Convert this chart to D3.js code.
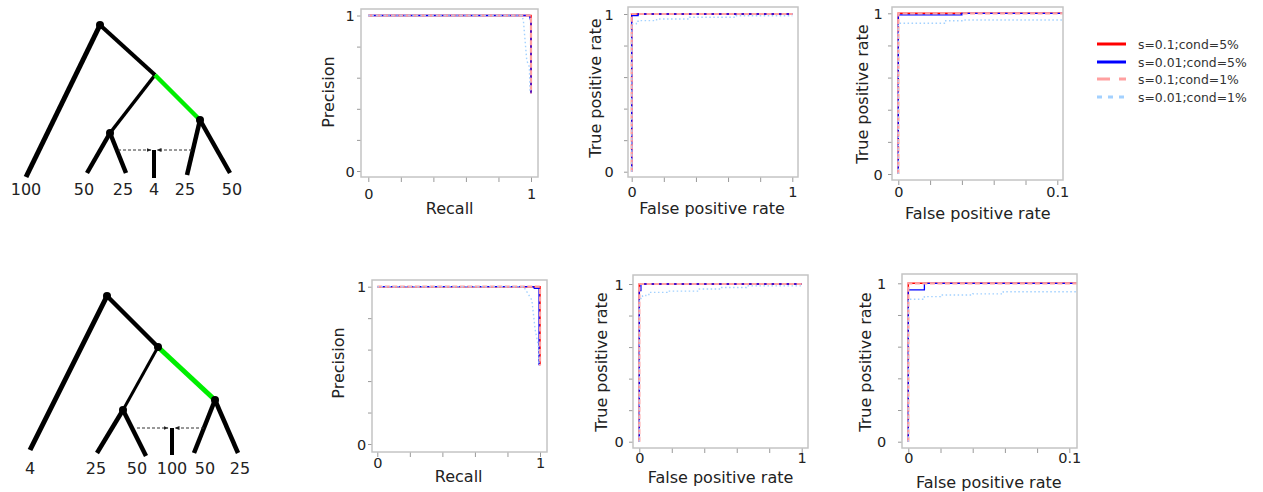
<!DOCTYPE html>
<html>
<head>
<meta charset="utf-8">
<script src="https://cdn.jsdelivr.net/npm/d3@7"></script>
<style>
  body { margin: 0; background: #fff; }
  svg { display: block; }
  text { font-family: "DejaVu Sans", sans-serif; }
</style>
</head>
<body>
<svg id="fig" width="1263" height="492"></svg>
<script>
// ---------- data ----------
const seriesNames = ["s=0.1;cond=5%", "s=0.01;cond=5%", "s=0.1;cond=1%", "s=0.01;cond=1%"];

// leaf labels of the two network schematics, left to right
const treeTopLeaves = ["100", "50", "25", "4", "25", "50"];
const treeBottomLeaves = ["4", "25", "50", "100", "50", "25"];

// precision-recall curves, scenario 1 (one array per series: [recall, precision])
const prTop = [
  [[0, 1], [1, 1], [1, 0.5]],
  [[0, 1], [0.99, 1], [1, 0.96], [1, 0.5]],
  [[0, 1], [1, 1], [1, 0.5]],
  [[0, 1], [0.943, 1], [0.953, 0.97], [0.974, 0.71], [0.99, 0.67], [0.994, 0.5]]
];
// ROC curves, scenario 1 ([false positive rate, true positive rate])
const rocTop = [
  [[0, 0], [0, 1], [1, 1]],
  [[0, 0], [0, 0.99], [0.04, 0.99], [0.04, 1], [1, 1]],
  [[0, 0], [0, 1], [1, 1]],
  [[0, 0], [0, 0.938], [0.029, 0.938], [0.029, 0.954], [0.04, 0.954], [0.04, 0.958],
   [0.155, 0.958], [0.155, 0.968], [0.36, 0.968], [0.36, 0.979], [0.65, 0.979],
   [0.65, 0.989], [1, 0.989]]
];
// precision-recall curves, scenario 2
const prBottom = [
  [[0, 1], [1, 1], [1, 0.5]],
  [[0, 1], [0.96, 1], [0.965, 0.99], [0.994, 0.99], [0.994, 0.5]],
  [[0, 1], [1, 1], [1, 0.5]],
  [[0, 1], [0.9, 1], [0.95, 0.915], [0.97, 0.73], [0.99, 0.62], [0.994, 0.5]]
];
// ROC curves, scenario 2
const rocBottom = [
  [[0, 0], [0, 1], [1, 1]],
  [[0, 0], [0, 0.958], [0.01, 0.958], [0.01, 1], [1, 1]],
  [[0, 0], [0, 1], [1, 1]],
  [[0, 0], [0, 0.899], [0.01, 0.899], [0.01, 0.916], [0.02, 0.916], [0.02, 0.926],
   [0.04, 0.926], [0.04, 0.933], [0.059, 0.933], [0.059, 0.947], [0.17, 0.947],
   [0.17, 0.955], [0.37, 0.955], [0.37, 0.968], [0.5, 0.968], [0.5, 0.978],
   [0.66, 0.978], [0.66, 0.988], [1, 0.988]]
];

const fullTicks = [0, 0.2, 0.4, 0.6, 0.8, 1];
const zoomTicks = [0, 0.02, 0.04, 0.06, 0.08, 0.1];
const tickLabelsFull = ["0", "", "", "", "", "1"];
const tickLabelsZoom = ["0", "", "", "", "", "0.1"];

// ---------- styles ----------
const seriesStyle = [
  { color: "#ff0000", width: 1.5, dash: null },
  { color: "#0000ff", width: 1.3, dash: null },
  { color: "#ffa0a0", width: 2.2, dash: "5,2.5" },
  { color: "#a3d1ff", width: 1.4, dash: "1.5,2.5" }
];
const frameColor = "#c4c4c4";
const tickColor = "#9a9a9a";
const textColor = "#222";

const svg = d3.select("#fig");
const defs = svg.append("defs");

// ---------- network schematics ----------
defs.append("marker")
  .attr("id", "arrow")
  .attr("viewBox", "0 0 10 10")
  .attr("refX", 9).attr("refY", 5)
  .attr("markerWidth", 5).attr("markerHeight", 5)
  .attr("orient", "auto")
  .append("path").attr("d", "M0,1 L10,5 L0,9 Z").attr("fill", "#222");

const treeLayouts = [
  {
    leaves: treeTopLeaves,
    nodes: { R: [100, 25], A: [155, 75], B: [110, 133], C: [200, 120],
             L0: [26, 177], L1: [87, 173], L2: [126, 173], L4: [187, 175], L5: [230, 173] },
    edges: [["R", "L0", 5], ["R", "A", 4], ["A", "B", 3.5], ["A", "C", 4.5, "#00ee00"],
            ["B", "L1", 4.5], ["B", "L2", 4.5], ["C", "L4", 4.5], ["C", "L5", 4.5]],
    dots: ["R", "B", "C"],
    hybrid: { x: 154, y0: 150, y1: 178 },
    arrows: [[118, 150, 151, 150], [192, 150, 157, 150]],
    labelX: [26, 84, 123, 154, 185, 232], labelY: 189
  },
  {
    leaves: treeBottomLeaves,
    nodes: { R: [107, 296], A: [158, 347], B: [123, 410], C: [215, 400],
             L0: [30, 450], L1: [97, 453], L2: [146, 456], L4: [194, 453], L5: [238, 453] },
    edges: [["R", "L0", 5], ["R", "A", 4.5], ["A", "B", 3], ["A", "C", 5, "#00ee00"],
            ["B", "L1", 4.5], ["B", "L2", 4.5], ["C", "L4", 4.5], ["C", "L5", 4.5]],
    dots: ["R", "A", "B", "C"],
    hybrid: { x: 172, y0: 428, y1: 455 },
    arrows: [[137, 428, 168, 428], [204, 428, 175, 428]],
    labelX: [30, 96, 137, 172, 205, 240], labelY: 468
  }
];

treeLayouts.forEach(t => {
  const g = svg.append("g");
  g.selectAll("line.edge").data(t.edges).join("line")
    .attr("class", "edge")
    .attr("x1", d => t.nodes[d[0]][0]).attr("y1", d => t.nodes[d[0]][1])
    .attr("x2", d => t.nodes[d[1]][0]).attr("y2", d => t.nodes[d[1]][1])
    .attr("stroke", d => d[3] || "#000")
    .attr("stroke-width", d => d[2])
    .attr("stroke-linecap", "butt");
  g.selectAll("circle").data(t.dots).join("circle")
    .attr("cx", d => t.nodes[d][0]).attr("cy", d => t.nodes[d][1])
    .attr("r", 4).attr("fill", "#000");
  g.append("line")
    .attr("x1", t.hybrid.x).attr("x2", t.hybrid.x)
    .attr("y1", t.hybrid.y0).attr("y2", t.hybrid.y1)
    .attr("stroke", "#000").attr("stroke-width", 4);
  g.selectAll("line.mig").data(t.arrows).join("line")
    .attr("class", "mig")
    .attr("x1", d => d[0]).attr("y1", d => d[1])
    .attr("x2", d => d[2]).attr("y2", d => d[3])
    .attr("stroke", "#333").attr("stroke-width", 1)
    .attr("stroke-dasharray", "3,2")
    .attr("marker-end", "url(#arrow)");
  g.selectAll("text").data(t.leaves).join("text")
    .attr("x", (d, i) => t.labelX[i]).attr("y", t.labelY)
    .attr("text-anchor", "middle").attr("dominant-baseline", "central")
    .attr("font-size", 16).attr("fill", textColor)
    .text(d => d);
});

// ---------- curve panels ----------
const panels = [
  { series: prTop, frame: [361, 9, 538, 177], xr: [368.3, 531], yr: [171, 15.5], xdom: [0, 1],
    xTicks: fullTicks, xLab: tickLabelsFull, xTitle: "Recall", yTitle: "Precision",
    xTickY: 194, xTitleY: 208, yTitleX: 328, yTitleY: 92, yTickX: 350 },
  { series: rocTop, frame: [628, 7, 798, 177], xr: [631.7, 792.3], yr: [171.7, 14], xdom: [0, 1],
    xTicks: fullTicks, xLab: tickLabelsFull, xTitle: "False positive rate", yTitle: "True positive rate",
    xTickY: 192, xTitleY: 208.5, yTitleX: 595, yTitleY: 88, yTickX: 609 },
  { series: rocTop, frame: [892, 7, 1063, 180], xr: [898.3, 1057.3], yr: [174, 13.3], xdom: [0, 0.1],
    xTicks: zoomTicks, xLab: tickLabelsZoom, xTitle: "False positive rate", yTitle: "True positive rate",
    xTickY: 192, xTitleY: 213, yTitleX: 862, yTitleY: 94, yTickX: 878 },
  { series: prBottom, frame: [372, 280, 547, 452], xr: [377.3, 540], yr: [444, 286.7], xdom: [0, 1],
    xTicks: fullTicks, xLab: tickLabelsFull, xTitle: "Recall", yTitle: "Precision",
    xTickY: 463, xTitleY: 476, yTitleX: 338, yTitleY: 363, yTickX: 361.5 },
  { series: rocBottom, frame: [633, 275, 808, 448], xr: [639.3, 801.7], yr: [441.7, 284], xdom: [0, 1],
    xTicks: fullTicks, xLab: tickLabelsFull, xTitle: "False positive rate", yTitle: "True positive rate",
    xTickY: 458, xTitleY: 477, yTitleX: 601.5, yTitleY: 362, yTickX: 619 },
  { series: rocBottom, frame: [902, 274, 1077, 448], xr: [908.3, 1069.3], yr: [441.7, 283.3], xdom: [0, 0.1],
    xTicks: zoomTicks, xLab: tickLabelsZoom, xTitle: "False positive rate", yTitle: "True positive rate",
    xTickY: 458, xTitleY: 482, yTitleX: 865, yTitleY: 362, yTickX: 881.5 }
];

panels.forEach((p, pi) => {
  const [fx0, fy0, fx1, fy1] = p.frame;
  const x = d3.scaleLinear().domain(p.xdom).range(p.xr);
  const y = d3.scaleLinear().domain([0, 1]).range(p.yr);
  const g = svg.append("g");

  defs.append("clipPath").attr("id", "clip" + pi)
    .append("rect").attr("x", fx0).attr("y", fy0)
    .attr("width", fx1 - fx0).attr("height", fy1 - fy0);

  // x axis ticks hang from the bottom edge of the frame
  const xAxis = d3.axisBottom(x).tickValues(p.xTicks)
    .tickFormat((d, i) => p.xLab[i]).tickSize(5).tickPadding(6);
  const gx = g.append("g").attr("transform", `translate(0,${fy1})`).call(xAxis);
  const yAxis = d3.axisLeft(y).tickValues(fullTicks)
    .tickFormat((d, i) => tickLabelsFull[i]).tickSize(4).tickPadding(5);
  const gy = g.append("g").attr("transform", `translate(${fx0},0)`).call(yAxis);
  [gx, gy].forEach(a => {
    a.select(".domain").remove();
    a.selectAll(".tick line").attr("stroke", tickColor).attr("stroke-width", 1);
    a.selectAll(".tick text").attr("fill", textColor).attr("font-size", 14.5)
      .attr("font-family", "DejaVu Sans, sans-serif");
  });
  gx.selectAll(".tick text").attr("y", null).attr("dy", null)
    .attr("transform", `translate(0,${p.xTickY - fy1})`)
    .attr("dominant-baseline", "central");
  gy.selectAll(".tick text").attr("x", null).attr("dy", null)
    .attr("text-anchor", "middle").attr("dominant-baseline", "central")
    .attr("transform", `translate(${p.yTickX - fx0},0)`);

  // curves
  const line = d3.line().x(d => x(d[0])).y(d => y(d[1]));
  g.append("g").attr("clip-path", `url(#clip${pi})`)
    .selectAll("path").data(p.series).join("path")
    .attr("d", line)
    .attr("fill", "none")
    .attr("stroke", (d, i) => seriesStyle[i].color)
    .attr("stroke-width", (d, i) => seriesStyle[i].width)
    .attr("stroke-dasharray", (d, i) => seriesStyle[i].dash);

  g.append("rect").attr("x", fx0).attr("y", fy0)
    .attr("width", fx1 - fx0).attr("height", fy1 - fy0)
    .attr("fill", "none").attr("stroke", frameColor).attr("stroke-width", 1.5);

  g.append("text")
    .attr("x", (x(p.xdom[0]) + x(p.xdom[1])) / 2).attr("y", p.xTitleY)
    .attr("text-anchor", "middle").attr("dominant-baseline", "central")
    .attr("font-size", 16).attr("fill", textColor).text(p.xTitle);
  g.append("text")
    .attr("transform", `translate(${p.yTitleX},${p.yTitleY}) rotate(-90)`)
    .attr("text-anchor", "middle").attr("dominant-baseline", "central")
    .attr("font-size", 16).attr("fill", textColor).text(p.yTitle);
});

// ---------- legend ----------
const legendY = [44, 62, 79, 97];
const legendStyle = [
  { width: 3, dash: null },
  { width: 3, dash: null },
  { width: 3, dash: "13,9" },
  { width: 3, dash: "5,6" }
];
const lg = svg.append("g");
lg.selectAll("line").data(seriesNames).join("line")
  .attr("x1", 1097).attr("x2", 1126)
  .attr("y1", (d, i) => legendY[i]).attr("y2", (d, i) => legendY[i])
  .attr("stroke", (d, i) => seriesStyle[i].color)
  .attr("stroke-width", (d, i) => legendStyle[i].width)
  .attr("stroke-dasharray", (d, i) => legendStyle[i].dash);
lg.selectAll("text").data(seriesNames).join("text")
  .attr("x", 1138).attr("y", (d, i) => legendY[i])
  .attr("dominant-baseline", "central")
  .attr("font-size", 12.4).attr("fill", "#333")
  .text(d => d);
</script>
</body>
</html>
